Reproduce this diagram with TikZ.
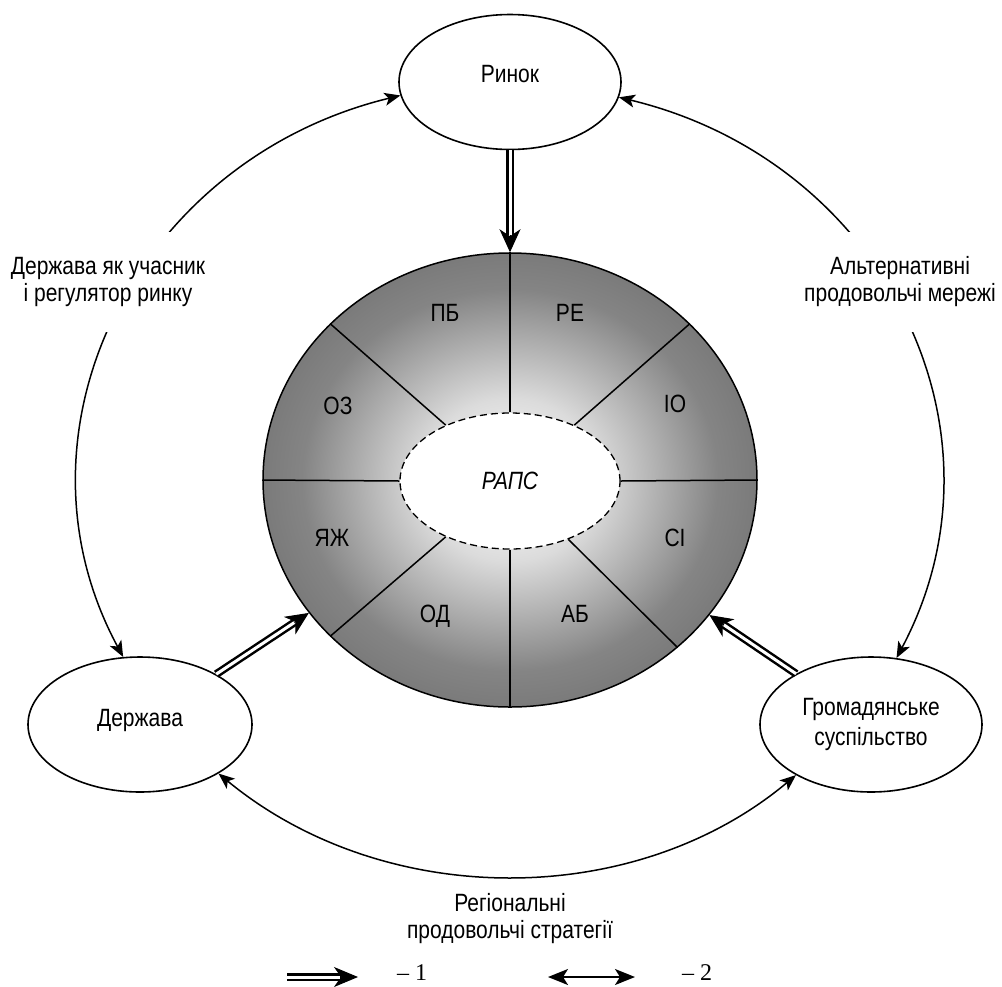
\documentclass[tikz,border=0pt]{standalone}
\usepackage{fontspec}
\setmainfont{Liberation Sans}[FakeStretch=0.84]
\newfontfamily\legfont{Liberation Serif}
\usetikzlibrary{shapes.geometric,arrows.meta}
\definecolor{shIn}{gray}{1}
\definecolor{shMid}{gray}{0.86}
\definecolor{shDark}{gray}{0.52}
\definecolor{shOut}{gray}{0.48}
\pgfdeclareradialshading{ringshade}{\pgfpoint{0bp}{0bp}}{color(0bp)=(shIn); color(9bp)=(shMid); color(21bp)=(shDark); color(25bp)=(shOut); color(50bp)=(shOut)}
\begin{document}
\begin{tikzpicture}[x=1pt, y=-1pt, font=\fontsize{25}{27}\selectfont,
  oval/.style={ellipse, draw, line width=1.6pt, inner sep=0pt, minimum width=222pt, minimum height=135pt, align=center},
  seglbl/.style={text height=18pt, text depth=0pt, inner sep=0pt},
  divider/.style={line width=1.5pt},
  twoway/.style={line width=1.5pt, {Stealth[length=16pt,width=13pt,inset=4pt]}-{Stealth[length=16pt,width=13pt,inset=4pt]}},
  arclbl/.style={align=center, fill=white, inner xsep=3pt, inner ysep=0pt, minimum height=100pt},
  flow/.style={line width=1pt, -{Stealth[length=23pt,width=21pt,inset=7pt]},
    preaction={draw, -, black, line width=8pt, shorten >=17pt},
    postaction={draw, -, white, line width=3pt, shorten >=17.5pt}},
  legflow/.style={line width=1pt, -{Stealth[length=24pt,width=20pt,inset=7pt]},
    preaction={draw, -, black, line width=8pt, shorten >=17pt},
    postaction={draw, -, white, line width=3pt, shorten >=18pt}},
  legtwo/.style={line width=1.8pt, {Stealth[length=20pt,width=16pt,inset=5pt]}-{Stealth[length=20pt,width=16pt,inset=5pt]}},
  legtxt/.style={font=\legfont\fontsize{24}{26}\selectfont, inner sep=0pt}
]
\useasboundingbox (0,0) rectangle (1002,986);

% central ring
\node[ellipse, draw, line width=1.5pt, inner sep=0pt, minimum width=494pt, minimum height=454pt,
      shade, shading=ringshade] (ring) at (510,480) {};
\node[ellipse, draw, line width=1.3pt, dash pattern=on 7pt off 4pt, fill=white, inner sep=0pt,
      minimum width=220pt, minimum height=136pt] (rapc) at (510,481) {\itshape РАПС};
\foreach \a in {0,41,90,139,180,221,270,315}
  \draw[divider] (rapc.\a) -- (ring.\a);

\node[seglbl] (pb) at (445,312) {ПБ};
\node[seglbl] (re) at (570,312) {РЕ};
\node[seglbl] (io) at (675,403) {ІО};
\node[seglbl] (si) at (675,537) {СІ};
\node[seglbl] (ab) at (575,613) {АБ};
\node[seglbl] (od) at (435,613) {ОД};
\node[seglbl] (yazh) at (332,537) {ЯЖ};
\node[seglbl] (oz) at (338,405) {ОЗ};

% actors
\node[oval, text height=18pt, text depth=18pt] (rynok) at (510,82) {Ринок};
\node[oval, minimum width=224pt, text height=18pt, text depth=15pt] (derzh) at (140,724.5) {Держава};
\node[oval, font=\fontsize{25}{30}\selectfont] (hrom) at (871,724.5) {Громадянське\\суспільство};

% two-way arcs
\draw[twoway] (derzh.104) .. controls (1.1,430.8) and (136.2,159.6) .. (rynok.187.6);
\draw[twoway] (hrom.69) .. controls (1017.8,429.9) and (883.8,160.9) .. (rynok.352.1);
\draw[twoway] (derzh.328.5) .. controls (384.0,909.9) and (634.4,910.3) .. (hrom.214.7);

\node[arclbl] (lblL) at (108,282) {Держава як учасник\\і регулятор ринку};
\node[arclbl] (lblR) at (900,282) {Альтернативні\\продовольчі мережі};
\node[align=center, inner sep=0pt] (lblB) at (510,919) {Регіональні\\продовольчі стратегії};

% flows into the ring
\draw[flow] (rynok) -- (ring);
\draw[flow] (derzh) -- (ring);
\draw[flow] (hrom) -- (ring);

% legend
\coordinate (l1s) at (287,977);
\coordinate (l1e) at (358,977);
\coordinate (l2s) at (548,977);
\coordinate (l2e) at (635,977);
\draw[legflow] (l1s) -- (l1e);
\node[legtxt] (leg1) at (412,973) {– 1};
\draw[legtwo] (l2s) -- (l2e);
\node[legtxt] (leg2) at (697,973) {– 2};
\end{tikzpicture}
\end{document}
